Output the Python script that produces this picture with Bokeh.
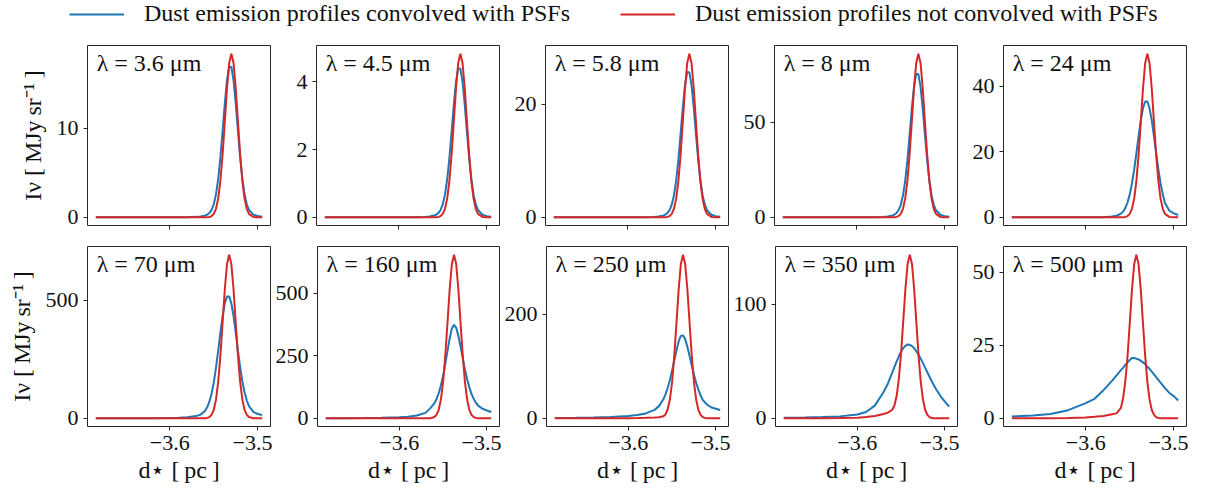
from bokeh.plotting import figure
from bokeh.layouts import column, row
from bokeh.models import (Range1d, FixedTicker, Label, Legend, LegendItem,
                          CustomJSTickFormatter)
from bokeh.embed import file_html
from bokeh.resources import INLINE

# ---------------- data ----------------
d_star_pc = [-3.684, -3.66, -3.64, -3.62, -3.60, -3.59, -3.58, -3.57, -3.565, -3.56,
             -3.5575, -3.555, -3.5525, -3.55, -3.5475, -3.545, -3.5425, -3.54, -3.5375,
             -3.535, -3.5325, -3.53, -3.5275, -3.525, -3.5225, -3.52, -3.5175, -3.515,
             -3.5125, -3.51, -3.505, -3.50, -3.495]

wavelength_labels = ["3.6", "4.5", "5.8", "8", "24", "70", "160", "250", "350", "500"]

noconv_3_6 = [0, 0, 0, 0, 0, 0, 0, 0, 0, 0.0, 0.01, 0.04, 0.14, 0.39, 0.96, 2.10, 4.08, 7.01,
              10.70, 14.46, 17.32, 18.4, 17.32, 14.46, 10.70, 7.01, 4.08, 2.10, 0.96, 0.39,
              0.04, 0.0, 0]
conv_3_6 = [0, 0, 0, 0, 0, 0.0, 0.01, 0.05, 0.09, 0.19, 0.30, 0.48, 0.83, 1.47, 2.58, 4.30,
            6.71, 9.67, 12.77, 15.38, 16.9, 16.9, 15.38, 12.77, 9.67, 6.71, 4.30, 2.58, 1.47,
            0.83, 0.30, 0.14, 0.06]

noconv_4_5 = [0, 0, 0, 0, 0, 0, 0, 0, 0, 0.001, 0.003, 0.012, 0.037, 0.102, 0.252, 0.552,
              1.07, 1.841, 2.808, 3.795, 4.547, 4.83, 4.547, 3.795, 2.808, 1.841, 1.07, 0.552,
              0.252, 0.102, 0.012, 0.001, 0]
conv_4_5 = [0, 0, 0, 0, 0, 0.0004, 0.002, 0.012, 0.024, 0.051, 0.077, 0.125, 0.216, 0.382,
            0.669, 1.116, 1.743, 2.51, 3.315, 3.995, 4.39, 4.39, 3.995, 3.315, 2.51, 1.743,
            1.116, 0.669, 0.382, 0.216, 0.077, 0.035, 0.015]

noconv_5_8 = [0, 0, 0, 0, 0, 0, 0, 0, 0, 0.006, 0.02, 0.07, 0.22, 0.61, 1.51, 3.30, 6.40,
              11.02, 16.80, 22.71, 27.21, 28.9, 27.21, 22.71, 16.80, 11.02, 6.40, 3.30, 1.51,
              0.61, 0.07, 0.006, 0]
conv_5_8 = [0, 0, 0, 0, 0, 0.003, 0.013, 0.07, 0.14, 0.30, 0.45, 0.73, 1.26, 2.23, 3.90,
            6.51, 10.17, 14.64, 19.34, 23.30, 25.6, 25.6, 23.30, 19.34, 14.64, 10.17, 6.51,
            3.90, 2.23, 1.26, 0.45, 0.20, 0.09]

noconv_8 = [0, 0, 0, 0, 0, 0, 0, 0, 0, 0.02, 0.06, 0.21, 0.65, 1.81, 4.48, 9.81, 19.04,
            32.75, 49.93, 67.50, 80.87, 85.9, 80.87, 67.50, 49.93, 32.75, 19.04, 9.81, 4.48,
            1.81, 0.21, 0.02, 0]
conv_8 = [0, 0, 0, 0, 0, 0.01, 0.04, 0.21, 0.42, 0.87, 1.32, 2.15, 3.70, 6.55, 11.46, 19.13,
          29.88, 43.02, 56.82, 68.47, 75.2, 75.2, 68.47, 56.82, 43.02, 29.88, 19.13, 11.46,
          6.55, 3.70, 1.32, 0.60, 0.25]

noconv_24 = [0, 0, 0, 0, 0, 0, 0, 0, 0, 0.01, 0.03, 0.12, 0.38, 1.05, 2.60, 5.70, 11.06,
             19.02, 29.01, 39.21, 46.98, 49.9, 46.98, 39.21, 29.01, 19.02, 11.06, 5.70, 2.60,
             1.05, 0.12, 0.01, 0]
conv_24 = [0, 0, 0, 0, 0, 0.01, 0.05, 0.23, 0.48, 1.13, 1.80, 2.88, 4.56, 7.01, 10.35, 14.58,
           19.51, 24.69, 29.52, 33.24, 35.3, 35.3, 33.24, 29.52, 24.69, 19.51, 14.58, 10.35,
           7.01, 4.4, 2.0, 1.2, 0.7]

noconv_70 = [0, 0, 0, 0, 0, 0, 0, 0, 0, 0.5, 1.7, 5.3, 14.6, 36.1, 79.1, 153.6, 264.2, 402.8,
             544.6, 652.5, 693, 652.5, 544.6, 402.8, 264.2, 153.6, 79.1, 36.1, 14.6, 5.3, 0.5,
             0, 0]
conv_70 = [0, 0.16, 0.31, 0.62, 1.3, 2.1, 4.2, 9.4, 15.6, 31.2, 46.8, 70.2, 104, 150.8, 213.2,
           286, 361.4, 431.6, 486.2, 516.4, 516.4, 486.2, 431.6, 361.4, 286, 215.8, 156, 109.2,
           75.4, 52, 27, 18.2, 14]

noconv_160 = [0, 0, 0, 0, 0, 0, 0, 0, 0.5, 5.0, 13.8, 34.0, 74.6, 144.7, 248.9, 379.6, 513.1,
              614.8, 653, 614.8, 513.1, 379.6, 248.9, 144.7, 74.6, 34.0, 13.8, 5.0, 1.6, 0.5,
              0, 0, 0]
conv_160 = [0.4, 0.6, 1.1, 2.2, 4.1, 6.7, 11.2, 21.6, 38.8, 59.7, 76.8, 100, 130.6, 168.6, 216,
            268.2, 317.8, 358.8, 373, 361.1, 329, 285.3, 239.1, 195.1, 155.9, 123.5, 97.7,
            77.6, 62.3, 50.7, 38, 31, 25]

noconv_250 = [0, 0, 0, 0, 0.3, 0.5, 0.9, 1.5, 2.0, 3.8, 7.5, 17.4, 36.5, 69.6, 119.7, 182.5,
              246.7, 295.6, 314, 295.6, 246.7, 182.5, 119.7, 69.6, 35.9, 16.4, 6.6, 2.4, 0.8,
              0.2, 0, 0, 0]
conv_250 = [0.8, 1.2, 1.7, 2.6, 4.5, 6.2, 9.4, 16.2, 23.4, 36.5, 46.1, 58.6, 73.4, 91.8, 111,
            129.9, 147.5, 158.1, 159.2, 151.7, 137.1, 119.4, 100.8, 83.5, 68, 55.2, 44.2, 35.5,
            30.4, 26.4, 20.8, 18.4, 16]

noconv_350 = [0, 0, 0, 0.2, 0.6, 1.1, 2.0, 3.8, 5.0, 7.5, 11.5, 20, 35, 57.5, 85.5, 114, 135.6,
              143.5, 135.1, 112.8, 83.4, 54.7, 31.8, 16.4, 7.5, 3.0, 1.1, 0.3, 0.1, 0, 0, 0, 0]
conv_350 = [0.55, 0.78, 1.1, 1.7, 3.4, 5.5, 11.1, 23.1, 30.6, 40.2, 45.3, 50.0, 54.4, 58.4,
            61.6, 63.6, 64.8, 64.3, 63.3, 61.4, 58.7, 55.7, 52.1, 48.4, 44.4, 40.4, 36.5, 32.5,
            28.9, 25.5, 19.5, 14.7, 10.3]

noconv_500 = [0, 0, 0, 0.1, 0.3, 0.5, 0.8, 1.4, 1.7, 3.6, 7.0, 12.8, 21.4, 32.6, 44.1, 52.8,
              56.1, 52.8, 44.1, 32.6, 21.4, 12.4, 6.4, 2.9, 1.2, 0.4, 0.1, 0, 0, 0, 0, 0, 0]
conv_500 = [0.6, 1.0, 1.45, 2.8, 5.2, 6.7, 9.6, 12.9, 14.7, 16.5, 17.4, 18.3, 19.2, 20.0, 20.7,
            20.7, 20.4, 20.2, 19.7, 19.2, 18.5, 17.7, 16.9, 16.0, 15.1, 14.1, 13.2, 12.2, 11.3,
            10.35, 8.7, 7.6, 6.1]

yticks_top = [[0, 10], [0, 2, 4], [0, 20], [0, 50], [0, 20, 40]]
yticks_bottom = [[0, 500], [0, 250, 500], [0, 200], [0, 100], [0, 25, 50]]
xticks = [-3.6, -3.5]

legend_labels = ["Dust emission profiles convolved with PSFs",
                 "Dust emission profiles not convolved with PSFs"]
ylabel = "Iν [\u2009MJy\u2009sr⁻¹\u2009]"
xlabel = "d⋆ [\u2009pc\u2009]"

conv_profiles = [conv_3_6, conv_4_5, conv_5_8, conv_8, conv_24,
                 conv_70, conv_160, conv_250, conv_350, conv_500]
noconv_profiles = [noconv_3_6, noconv_4_5, noconv_5_8, noconv_8, noconv_24,
                   noconv_70, noconv_160, noconv_250, noconv_350, noconv_500]
yticks_all = yticks_top + yticks_bottom

# ---------------- style ----------------
FONT = "Liberation Serif"
TICK_FS = "22px"
LABEL_FS = "24px"
BLUE = "#1f77b4"
RED = "#d62728"
FRAME = "#262626"
TEXT = "#111111"

x_lo, x_hi = min(d_star_pc), max(d_star_pc)
xpad = 0.05 * (x_hi - x_lo)
x_start, x_end = x_lo - xpad, x_hi + xpad

figs = []
for i in range(10):
    r, c = divmod(i, 5)
    blue = conv_profiles[i]
    red = noconv_profiles[i]
    ymax = max(max(blue), max(red))
    ymin = min(min(blue), min(red))
    ypad = 0.05 * (ymax - ymin)
    y_start, y_end = ymin - ypad, ymax + ypad
    left = 87 if c == 0 else 44
    if r == 0:
        height, top, bottom = 208, 9, 19
    else:
        height, top, bottom = 242, 2, 60
    p = figure(width=left + 183 + 2, height=height,
               x_range=Range1d(x_start, x_end), y_range=Range1d(y_start, y_end),
               min_border_left=left, min_border_right=2,
               min_border_top=top, min_border_bottom=bottom,
               output_backend="svg", toolbar_location=None, title=None)
    p.xgrid.visible = False
    p.ygrid.visible = False
    p.outline_line_color = FRAME
    p.outline_line_width = 1
    p.outline_line_alpha = 1
    p.background_fill_color = "white"
    p.border_fill_color = "white"

    for ax in (p.xaxis[0], p.yaxis[0]):
        ax.axis_line_color = None
        ax.major_tick_out = 4
        ax.major_tick_in = 0
        ax.major_tick_line_color = FRAME
        ax.minor_tick_line_color = None
        ax.major_label_text_font = FONT
        ax.major_label_text_font_size = TICK_FS
        ax.major_label_text_color = TEXT
        ax.major_label_standoff = 5

    p.xaxis.ticker = FixedTicker(ticks=xticks)
    p.yaxis.ticker = FixedTicker(ticks=yticks_all[i])

    if r == 1:
        p.xaxis.formatter = CustomJSTickFormatter(
            code="return tick.toFixed(1).replace('-', '\u2212');")
        p.xaxis.axis_label = xlabel
        p.xaxis.axis_label_text_font = FONT
        p.xaxis.axis_label_text_font_size = LABEL_FS
        p.xaxis.axis_label_text_font_style = "normal"
        p.xaxis.axis_label_text_color = TEXT
        p.xaxis.axis_label_standoff = 4
    else:
        p.xaxis.formatter = CustomJSTickFormatter(code="return '';")
        p.xaxis.major_label_text_font_size = "0px"
        p.xaxis.major_label_standoff = 0

    if c == 0:
        p.yaxis.axis_label = ylabel
        p.yaxis.axis_label_text_font = FONT
        p.yaxis.axis_label_text_font_size = LABEL_FS
        p.yaxis.axis_label_text_font_style = "normal"
        p.yaxis.axis_label_text_color = TEXT
        p.yaxis.axis_label_standoff = 8

    p.line(d_star_pc, blue, line_color=BLUE, line_width=2)
    p.line(d_star_pc, red, line_color=RED, line_width=2)

    lab = Label(x=x_start + 0.05 * (x_end - x_start),
                y=y_end - 0.025 * (y_end - y_start),
                text=f"λ = {wavelength_labels[i]} μm",
                text_font=FONT, text_font_size="24px", text_color=TEXT,
                text_baseline="top", text_align="left")
    p.add_layout(lab)
    figs.append(p)

# ---------------- legend header ----------------
# The header's ranges do not include the data, so its two lines stay hidden;
# they only feed the legend swatches.
header = figure(width=1188, height=36, x_range=Range1d(0, 1), y_range=Range1d(-1, 0),
                output_backend="svg", toolbar_location=None, title=None,
                x_axis_type=None, y_axis_type=None, min_border=0)
header.outline_line_color = None
header.xgrid.visible = False
header.ygrid.visible = False
rb = header.line(d_star_pc, conv_3_6, line_color=BLUE, line_width=2)
rr = header.line(d_star_pc, noconv_3_6, line_color=RED, line_width=2)
legend = Legend(items=[LegendItem(label=legend_labels[0], renderers=[rb]),
                       LegendItem(label=legend_labels[1], renderers=[rr])],
                orientation="horizontal", location=(69, 9),
                glyph_width=55, glyph_height=20, label_standoff=20, spacing=50,
                padding=0, margin=0, border_line_color=None,
                background_fill_alpha=0,
                label_text_font=FONT, label_text_font_size="24px",
                label_text_color=TEXT)
header.add_layout(legend)

layout = column(header, row(*figs[:5]), row(*figs[5:]))

open("out.html", "w").write(file_html(layout, INLINE))
